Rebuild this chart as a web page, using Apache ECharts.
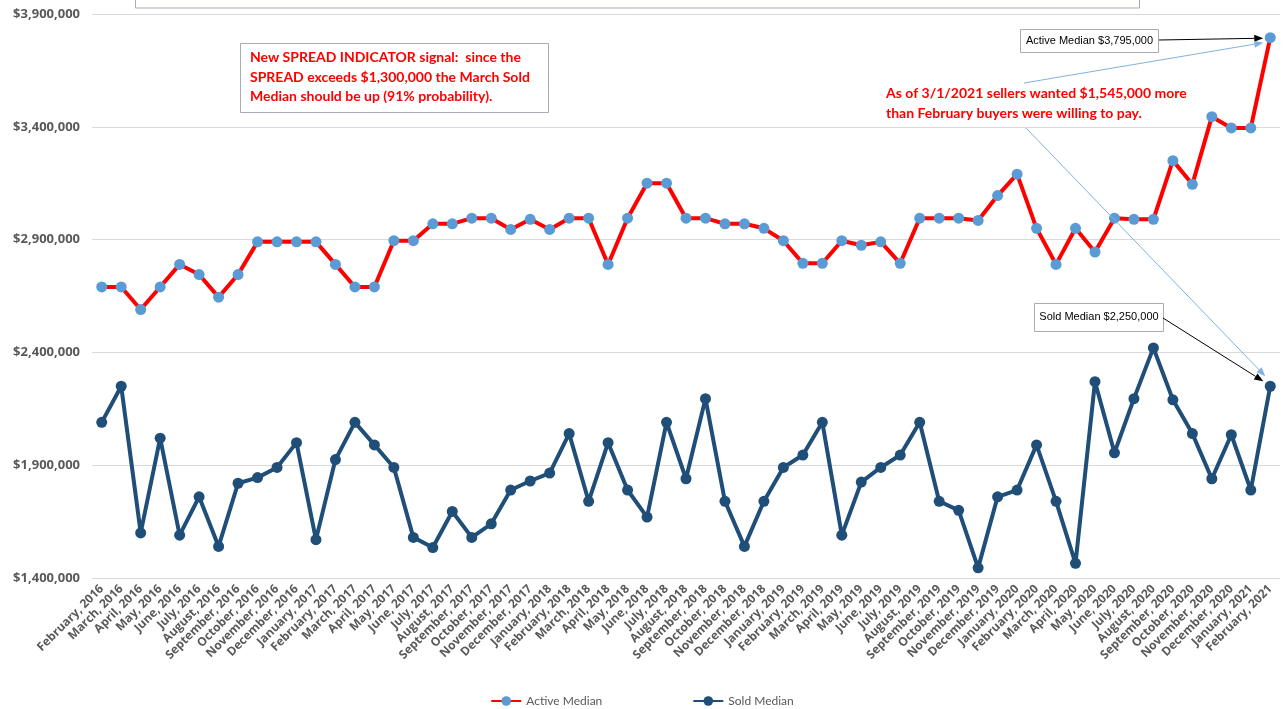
<!DOCTYPE html>
<html><head><meta charset="utf-8">
<script src="https://cdn.jsdelivr.net/npm/echarts@6/dist/echarts.min.js"></script>
<style>html,body{margin:0;padding:0;background:#fff}#c{width:1284px;height:709px}</style>
</head><body><div id="c"></div>
<script>
const categories = ["February, 2016","March, 2016","April, 2016","May, 2016","June, 2016","July, 2016","August, 2016","September, 2016","October, 2016","November, 2016","December, 2016","January, 2017","February, 2017","March, 2017","April, 2017","May, 2017","June, 2017","July, 2017","August, 2017","September, 2017","October, 2017","November, 2017","December, 2017","January, 2018","February, 2018","March, 2018","April, 2018","May, 2018","June, 2018","July, 2018","August, 2018","September, 2018","October, 2018","November, 2018","December, 2018","January, 2019","February, 2019","March, 2019","April, 2019","May, 2019","June, 2019","July, 2019","August, 2019","September, 2019","October, 2019","November, 2019","December, 2019","January, 2020","February, 2020","March, 2020","April, 2020","May, 2020","June, 2020","July, 2020","August, 2020","September, 2020","October, 2020","November, 2020","December, 2020","January, 2021","February, 2021"];

const activeMedian = [2690000,2690000,2590000,2690000,2790000,2745000,2645000,2745000,2890000,2890000,2890000,2890000,2790000,2690000,2690000,2895000,2895000,2970000,2970000,2995000,2995000,2945000,2990000,2945000,2995000,2995000,2790000,2995000,3150000,
3150000,2995000,2995000,2970000,2970000,2950000,2895000,2795000,2795000,2895000,2875000,2890000,2795000,2995000,2995000,2995000,2985000,3095000,3190000,2950000,2790000,2950000,2845000,2995000,2990000,2990000,3250000,3145000,3445000,3395000,3395000,3795000];

const soldMedian = [2090000,2250000,1600000,2020000,1590000,1760000,1540000,1820000,1845000,1890000,2000000,1570000,1925000,2090000,1990000,1890000,1580000,1535000,1695000,1580000,1640000,1790000,1830000,1865000,2040000,1740000,2000000,1790000,1670000,
2090000,1840000,2195000,1740000,1540000,1740000,1890000,1945000,2090000,1590000,1825000,1890000,1945000,2090000,1740000,1700000,1445000,1760000,1790000,1990000,1740000,1465000,2270000,1955000,2195000,2420000,2190000,2040000,1840000,2035000,1790000,2250000];

const yMin = 1400000, yMax = 3900000, yStep = 500000;

const seriesNames = ["Active Median", "Sold Median"];
const noteSpread = "New SPREAD INDICATOR signal:  since the\nSPREAD exceeds $1,300,000 the March Sold\nMedian should be up (91% probability).";
const noteSellers = "As of 3/1/2021 sellers wanted $1,545,000 more\nthan February buyers were willing to pay.";
const labelActive = "Active Median $3,795,000";
const labelSold = "Sold Median $2,250,000";

function money(v){ return '$' + String(Math.round(v)).replace(/\B(?=(\d{3})+(?!\d))/g, ','); }

const chart = echarts.init(document.getElementById('c'));
const option = {
  animation: false,
  backgroundColor: '#fff',
  grid: { left: 92, right: 4, top: 14, bottom: 131, containLabel: false },
  legend: {
    top: 690, left: 'center', itemWidth: 30, itemHeight: 12, itemGap: 90,
    textStyle: { color: '#595959', fontSize: 12, fontFamily: 'Lato' },
    data: seriesNames
  },
  xAxis: {
    type: 'category', data: categories, boundaryGap: true,
    axisLine: { show: false }, axisTick: { show: false },
    axisLabel: { interval: 0, rotate: 45, margin: 9, color: '#595959', fontSize: 12, fontWeight: 'bold', fontFamily: 'Open Sans' }
  },
  yAxis: {
    type: 'value', min: yMin, max: yMax, interval: yStep,
    axisLine: { show: false }, axisTick: { show: false },
    axisLabel: { formatter: money, color: '#595959', fontSize: 13, fontWeight: 'bold', fontFamily: 'Open Sans', margin: 12 },
    splitLine: { lineStyle: { color: '#D9D9D9', width: 1 } }
  },
  series: [
    { name: seriesNames[0], type: 'line', data: activeMedian, symbol: 'circle', symbolSize: 11,
      lineStyle: { color: '#FF0000', width: 4 }, itemStyle: { color: '#5B9BD5' }, z: 3 },
    { name: seriesNames[1], type: 'line', data: soldMedian, symbol: 'circle', symbolSize: 11,
      lineStyle: { color: '#1F4E79', width: 4 }, itemStyle: { color: '#1F4E79' }, z: 2 }
  ]
};
chart.setOption(option);

function arrow(x1, y1, x2, y2, color, lw, L, W) {
  const dx = x2 - x1, dy = y2 - y1, len = Math.hypot(dx, dy);
  const ux = dx / len, uy = dy / len;
  const bx = x2 - ux * L, by = y2 - uy * L;
  return [
    { type: 'line', z: 100, shape: { x1: x1, y1: y1, x2: bx, y2: by }, style: { stroke: color, lineWidth: lw } },
    { type: 'polygon', z: 100, shape: { points: [[x2, y2], [bx - uy * W, by + ux * W], [bx + uy * W, by - ux * W]] }, style: { fill: color } }
  ];
}

const last = categories.length - 1;
const pA = chart.convertToPixel({ seriesIndex: 0 }, [last, activeMedian[last]]);
const pS = chart.convertToPixel({ seriesIndex: 1 }, [last, soldMedian[last]]);

const boxStroke = '#A9A9B8';
const g = [
  { type: 'rect', z: 90, shape: { x: 135.5, y: -20, width: 1004, height: 28 }, style: { fill: '#fff', stroke: boxStroke, lineWidth: 1 } },
  { type: 'rect', z: 90, shape: { x: 240.5, y: 43.5, width: 308, height: 69 }, style: { fill: '#fff', stroke: boxStroke, lineWidth: 1 } },
  { type: 'text', z: 95, x: 250, y: 48, style: { text: noteSpread, fill: '#FF0000', font: 'bold 14px Lato', lineHeight: 19.5 } },
  { type: 'text', z: 95, x: 886, y: 83, style: { text: noteSellers, fill: '#FF0000', font: 'bold 14px Lato', lineHeight: 20 } },
  { type: 'rect', z: 90, shape: { x: 1020.5, y: 29.5, width: 138, height: 23 }, style: { fill: '#fff', stroke: boxStroke, lineWidth: 1 } },
  { type: 'text', z: 95, x: 1089.5, y: 41, style: { text: labelActive, fill: '#000', font: '11px "Liberation Sans Narrow", "Liberation Sans"', align: 'center', verticalAlign: 'middle' } },
  { type: 'rect', z: 90, shape: { x: 1034.5, y: 303.5, width: 129, height: 28 }, style: { fill: '#fff', stroke: boxStroke, lineWidth: 1 } },
  { type: 'text', z: 95, x: 1099, y: 317, style: { text: labelSold, fill: '#000', font: '11px "Liberation Sans Narrow", "Liberation Sans"', align: 'center', verticalAlign: 'middle' } }
].concat(
  arrow(1159, 40, pA[0] - 7, pA[1] + 0.5, '#000', 1, 9, 3.5),
  arrow(1024, 83, pA[0] - 7, pA[1] + 5, '#7FB2E0', 1, 9, 3.5),
  arrow(1026, 128, pS[0] - 5, pS[1] - 10, '#7FB2E0', 1, 9, 3.5),
  arrow(1163, 318, pS[0] - 7, pS[1] - 5, '#000', 1, 9, 3.5)
);
chart.setOption({ graphic: g });
</script></body></html>
